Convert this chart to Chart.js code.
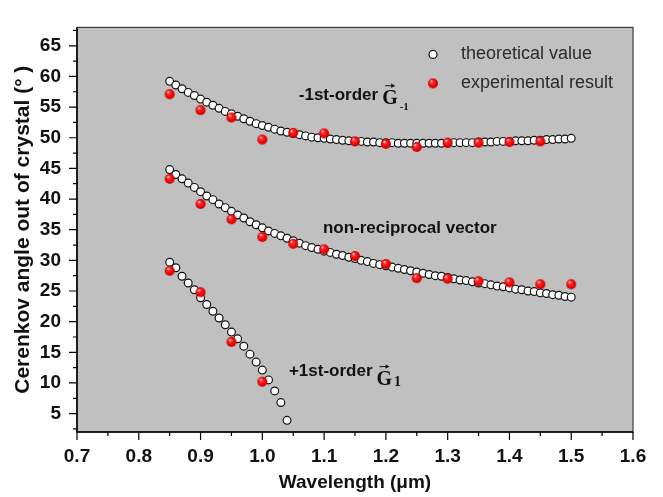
<!DOCTYPE html>
<html lang="en">
<head>
<meta charset="UTF-8">
<title>Cerenkov angle vs wavelength</title>
<style>
  body { margin: 0; background: #fff; }
  #wrap { width: 663px; height: 497px; }
</style>
</head>
<body>
<div id="wrap"><canvas id="chart" width="663" height="497"></canvas></div>
<script src="https://cdn.jsdelivr.net/npm/chart.js"></script>
<script>
// wavelength of the theoretical points (um)
const wlTheory = [
  0.85, 0.86, 0.87, 0.88, 0.89, 0.90, 0.91, 0.92, 0.93, 0.94, 0.95, 0.96, 0.97, 0.98, 0.99,
  1.00, 1.01, 1.02, 1.03, 1.04, 1.05, 1.06, 1.07, 1.08, 1.09,
  1.10, 1.11, 1.12, 1.13, 1.14, 1.15, 1.16, 1.17, 1.18, 1.19,
  1.20, 1.21, 1.22, 1.23, 1.24, 1.25, 1.26, 1.27, 1.28, 1.29,
  1.30, 1.31, 1.32, 1.33, 1.34, 1.35, 1.36, 1.37, 1.38, 1.39,
  1.40, 1.41, 1.42, 1.43, 1.44, 1.45, 1.46, 1.47, 1.48, 1.49, 1.50
];
const wlPlus = wlTheory.slice(0, 20);   // +1st order stops at 1.04
const wlExp = [0.85, 0.90, 0.95, 1.00, 1.05, 1.10, 1.15, 1.20, 1.25, 1.30, 1.35, 1.40, 1.45, 1.50];

// theoretical values (deg)
const thMinus = [
  59.2, 58.6, 58.0, 57.4, 56.9, 56.3, 55.8, 55.3, 54.8, 54.3, 53.9, 53.5, 53.1, 52.7, 52.3,
  52.0, 51.7, 51.4, 51.1, 50.9, 50.7, 50.5, 50.3, 50.1, 50.0,
  49.9, 49.8, 49.7, 49.6, 49.5, 49.4, 49.4, 49.3, 49.3, 49.2,
  49.2, 49.2, 49.1, 49.1, 49.1, 49.1, 49.1, 49.1, 49.1, 49.1,
  49.1, 49.2, 49.2, 49.2, 49.2, 49.3, 49.3, 49.3, 49.4, 49.4,
  49.4, 49.5, 49.5, 49.5, 49.6, 49.6, 49.7, 49.7, 49.8, 49.8, 49.9
];
const thNonRecip = [
  44.8, 44.0, 43.3, 42.6, 41.9, 41.2, 40.5, 39.9, 39.2, 38.6, 38.0, 37.4, 36.9, 36.3, 35.8,
  35.3, 34.8, 34.4, 34.0, 33.6, 33.2, 32.8, 32.4, 32.1, 31.8,
  31.5, 31.3, 31.0, 30.8, 30.5, 30.3, 30.0, 29.8, 29.5, 29.3,
  29.1, 28.9, 28.7, 28.5, 28.3, 28.1, 27.9, 27.7, 27.5, 27.4,
  27.2, 27.0, 26.8, 26.7, 26.5, 26.3, 26.2, 26.0, 25.8, 25.7,
  25.5, 25.3, 25.2, 25.0, 24.9, 24.7, 24.6, 24.4, 24.3, 24.1, 24.0
];
const thPlus = [
  29.7, 28.8, 27.4, 26.3, 25.2, 23.9, 22.8, 21.7, 20.6, 19.5,
  18.3, 17.2, 16.0, 14.7, 13.4, 12.1, 10.5, 8.7, 6.8, 3.9
];

// experimental values (deg)
const exMinus = [57.1, 54.5, 53.3, 49.7, 50.8, 50.7, 49.4, 49.0, 48.5, 49.2, 49.2, 49.3, 49.4];
const exNonRecip = [43.3, 39.2, 36.7, 33.8, 32.7, 31.8, 30.7, 29.4, 27.1, 27.0, 26.6, 26.4, 26.1, 26.1];
const exPlus = [28.3, 24.8, 16.7, 10.2];

const xTicks = [0.7, 0.8, 0.9, 1.0, 1.1, 1.2, 1.3, 1.4, 1.5, 1.6];
const yTicks = [5, 10, 15, 20, 25, 30, 35, 40, 45, 50, 55, 60, 65];

const FONT = "Arial, 'Liberation Sans', sans-serif";
const SERIF = "'Times New Roman', 'Liberation Serif', serif";

function pts(xs, ys) {
  return ys.map((y, i) => ({ x: xs[i], y: y }));
}

// little red ball used for the experimental points
function makeSphere(r) {
  const c = document.createElement('canvas');
  const s = Math.ceil(r * 2 + 2);
  c.width = s; c.height = s;
  const g = c.getContext('2d');
  const m = s / 2;
  const grad = g.createRadialGradient(m - r * 0.35, m - r * 0.45, r * 0.05, m, m, r);
  grad.addColorStop(0, '#ffe6e6');
  grad.addColorStop(0.3, '#ff2a2a');
  grad.addColorStop(0.75, '#f00000');
  grad.addColorStop(1, '#b80000');
  g.fillStyle = grad;
  g.beginPath(); g.arc(m, m, r, 0, Math.PI * 2); g.fill();
  return c;
}
const sphere = makeSphere(5);

const theoryStyle = {
  pointStyle: 'circle', pointRadius: 3.9, pointBackgroundColor: '#ffffff',
  pointBorderColor: '#111111', pointBorderWidth: 1.2, showLine: false, order: 1
};
const expStyle = { pointStyle: sphere, pointRadius: 5, showLine: false, order: 0 };

function drawVec(ctx, x, y, w) {
  ctx.lineWidth = 1;
  ctx.beginPath(); ctx.moveTo(x, y); ctx.lineTo(x + w, y); ctx.stroke();
  ctx.beginPath();
  ctx.moveTo(x + w + 1.5, y); ctx.lineTo(x + w - 2.5, y - 2.2); ctx.lineTo(x + w - 2.5, y + 2.2);
  ctx.closePath(); ctx.fill();
}

function drawOrder(ctx, px, py, label, gDrop, sub, subSize, subDrop) {
  ctx.font = 'bold 17px ' + FONT;
  ctx.textAlign = 'left';
  ctx.textBaseline = 'alphabetic';
  ctx.fillText(label, px, py);
  const gx = px + ctx.measureText(label).width + 4;
  ctx.font = 'bold 20px ' + SERIF;
  ctx.fillText('G', gx, py + gDrop);
  const gw = ctx.measureText('G').width;
  drawVec(ctx, gx + 3, py + gDrop - 18, gw - 7);
  ctx.font = 'bold ' + subSize + 'px ' + SERIF;
  ctx.fillText(sub, gx + gw + 2, py + subDrop);
}

const decorations = {
  id: 'decorations',
  beforeDraw(chart) {
    const { ctx, chartArea: a } = chart;
    ctx.save();
    ctx.fillStyle = '#ffffff';
    ctx.fillRect(0, 0, chart.width, chart.height);
    ctx.fillStyle = '#c0c0c0';
    ctx.fillRect(a.left, a.top, a.right - a.left, a.bottom - a.top);
    ctx.restore();
  },
  afterDraw(chart) {
    const { ctx, chartArea: a, scales } = chart;
    const xs = scales.x, ys = scales.y;
    ctx.save();

    // frame
    ctx.strokeStyle = '#3a3a3a';
    ctx.lineWidth = 1.2;
    ctx.strokeRect(a.left, a.top, a.right - a.left, a.bottom - a.top);
    ctx.strokeStyle = '#000';
    ctx.lineWidth = 1.5;
    ctx.beginPath();
    ctx.moveTo(a.left, a.top); ctx.lineTo(a.left, a.bottom); ctx.lineTo(a.right, a.bottom);
    ctx.stroke();

    // major + minor ticks, outside
    ctx.lineWidth = 1.2;
    ctx.beginPath();
    xTicks.forEach((v, i) => {
      const p = xs.getPixelForValue(v);
      ctx.moveTo(p, a.bottom); ctx.lineTo(p, a.bottom + 8);
      if (i < xTicks.length - 1) {
        const q = xs.getPixelForValue((v + xTicks[i + 1]) / 2);
        ctx.moveTo(q, a.bottom); ctx.lineTo(q, a.bottom + 4);
      }
    });
    const yMinor = [2.5].concat(yTicks.map(v => v + 2.5));
    yTicks.forEach(v => {
      const p = ys.getPixelForValue(v);
      ctx.moveTo(a.left, p); ctx.lineTo(a.left - 8, p);
    });
    yMinor.forEach(v => {
      const p = ys.getPixelForValue(v);
      ctx.moveTo(a.left, p); ctx.lineTo(a.left - 4, p);
    });
    ctx.stroke();

    // legend, top right inside the plot
    const lx = a.right - 200;
    const l1 = a.top + 27, l2 = a.top + 56;
    ctx.fillStyle = '#fff';
    ctx.strokeStyle = '#111';
    ctx.lineWidth = 1.2;
    ctx.beginPath(); ctx.arc(lx, l1, 4, 0, Math.PI * 2); ctx.fill(); ctx.stroke();
    ctx.drawImage(sphere, lx - sphere.width / 2, l2 - sphere.height / 2);
    ctx.fillStyle = '#2b2b2b';
    ctx.font = '18px ' + FONT;
    ctx.textAlign = 'left';
    ctx.textBaseline = 'middle';
    ctx.fillText('theoretical value', lx + 28, l1);
    ctx.fillText('experimental result', lx + 28, l2);

    // curve labels
    ctx.fillStyle = '#111';
    ctx.strokeStyle = '#111';
    drawOrder(ctx, xs.getPixelForValue(1.059), ys.getPixelForValue(56.2), '-1st-order', 4, '-1', 11, 10);
    ctx.font = 'bold 17px ' + FONT;
    ctx.textBaseline = 'alphabetic';
    ctx.fillText('non-reciprocal vector', xs.getPixelForValue(1.098), ys.getPixelForValue(34.4));
    drawOrder(ctx, xs.getPixelForValue(1.043), ys.getPixelForValue(11.2), '+1st-order', 9, '1', 14, 10);

    ctx.restore();
  }
};

new Chart(document.getElementById('chart'), {
  type: 'scatter',
  data: {
    datasets: [
      Object.assign({ label: 'experimental -1st', data: pts(wlExp, exMinus) }, expStyle),
      Object.assign({ label: 'experimental non-reciprocal', data: pts(wlExp, exNonRecip) }, expStyle),
      Object.assign({ label: 'experimental +1st', data: pts(wlExp, exPlus) }, expStyle),
      Object.assign({ label: 'theoretical -1st', data: pts(wlTheory, thMinus) }, theoryStyle),
      Object.assign({ label: 'theoretical non-reciprocal', data: pts(wlTheory, thNonRecip) }, theoryStyle),
      Object.assign({ label: 'theoretical +1st', data: pts(wlPlus, thPlus) }, theoryStyle)
    ]
  },
  options: {
    responsive: false,
    animation: false,
    layout: { padding: { top: 6, right: 30, left: 0, bottom: 0 } },
    plugins: { legend: { display: false }, tooltip: { enabled: false } },
    scales: {
      x: {
        type: 'linear', min: 0.7, max: 1.6,
        afterBuildTicks: s => { s.ticks = xTicks.map(v => ({ value: v })); },
        afterFit: s => { s.height = 65; },
        grid: { display: false, drawTicks: false },
        border: { display: false },
        ticks: {
          padding: 13, color: '#111', maxRotation: 0, autoSkip: false,
          font: { family: FONT, size: 19, weight: 'bold' },
          callback: v => v.toFixed(1)
        },
        title: {
          display: true, text: 'Wavelength (μm)', color: '#111',
          font: { family: FONT, size: 19, weight: 'bold' },
          padding: { top: 0, bottom: 3 }
        }
      },
      y: {
        type: 'linear', min: 2, max: 68,
        afterBuildTicks: s => { s.ticks = yTicks.map(v => ({ value: v })); },
        afterFit: s => { s.width = 77; },
        grid: { display: false, drawTicks: false },
        border: { display: false },
        ticks: {
          padding: 16, color: '#111', autoSkip: false,
          font: { family: FONT, size: 19, weight: 'bold' }
        },
        title: {
          display: true, text: 'Cerenkov angle out of crystal (° )', color: '#111',
          font: { family: FONT, size: 21, weight: 'bold' },
          padding: { top: 11, bottom: 0 }
        }
      }
    }
  },
  plugins: [decorations]
});
</script>
</body>
</html>
